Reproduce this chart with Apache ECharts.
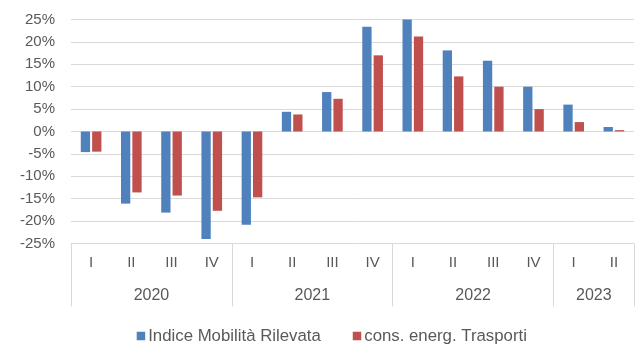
<!DOCTYPE html>
<html>
<head>
<meta charset="utf-8">
<script src="https://cdn.jsdelivr.net/npm/echarts@6/dist/echarts.min.js"></script>
<style>
  html, body { margin: 0; padding: 0; background: #fff; }
  #chart { width: 641px; height: 345px; }
</style>
</head>
<body>
<div id="chart"></div>
<script>
// Quarterly year-on-year changes (%)
const quarters = ['I', 'II', 'III', 'IV', 'I', 'II', 'III', 'IV', 'I', 'II', 'III', 'IV', 'I', 'II'];
const years = ['2020', '2021', '2022', '2023'];
const quartersPerYear = [4, 4, 4, 2];
const mobilita = [-4.6, -16.1, -18.1, -24.0, -20.8, 4.4, 8.8, 23.4, 25.0, 18.1, 15.8, 10.0, 6.0, 1.0];
const trasporti = [-4.5, -13.6, -14.3, -17.7, -14.7, 3.8, 7.3, 17.0, 21.2, 12.3, 10.0, 5.0, 2.1, 0.3];
const yTicks = [-25, -20, -15, -10, -5, 0, 5, 10, 15, 20, 25];

// Year group boundaries and centres, in category units
const boundaries = [0];
const centres = [];
quartersPerYear.forEach((n, i) => {
  const start = boundaries[i];
  boundaries.push(start + n);
  centres.push(start + n / 2);
});

const textColor = '#595959';
const gridColor = '#d9d9d9';
const font = 'Liberation Sans, Arial, sans-serif';

const chart = echarts.init(document.getElementById('chart'), null, { renderer: 'canvas' });
chart.setOption({
  animation: false,
  backgroundColor: '#ffffff',
  grid: { left: 71, right: 7, top: 19.5, bottom: 101.5 },
  legend: {
    left: 131.7,
    top: 322.5,
    icon: 'rect',
    itemWidth: 8.5,
    itemHeight: 8.5,
    itemGap: 32,
    textStyle: { color: textColor, fontSize: 16.8, fontFamily: font, padding: [0, 0, 0, -2] },
    data: ['Indice Mobilità Rilevata', 'cons. energ. Trasporti']
  },
  xAxis: [
    {
      type: 'category',
      data: quarters,
      position: 'bottom',
      axisLine: { onZero: false, lineStyle: { color: gridColor, width: 1 } },
      axisTick: { show: false },
      axisLabel: { color: textColor, fontSize: 15, fontFamily: font, margin: 12, interval: 0 },
      splitLine: { show: false }
    },
    {
      type: 'value',
      min: 0,
      max: quarters.length,
      position: 'bottom',
      axisLine: { show: false, onZero: false },
      axisTick: {
        show: true,
        customValues: boundaries,
        length: 63,
        lineStyle: { color: gridColor, width: 1 }
      },
      axisLabel: {
        show: true,
        customValues: centres,
        margin: 44,
        color: textColor,
        fontSize: 16,
        fontFamily: font,
        formatter: (v) => years[centres.indexOf(v)]
      },
      splitLine: { show: false }
    }
  ],
  yAxis: {
    type: 'value',
    min: yTicks[0],
    max: yTicks[yTicks.length - 1],
    interval: 5,
    axisLine: { show: false },
    axisTick: { show: false },
    axisLabel: {
      color: textColor,
      fontSize: 15,
      fontFamily: font,
      margin: 16,
      formatter: '{value}%'
    },
    splitLine: { lineStyle: { color: gridColor, width: 1 } }
  },
  series: [
    {
      name: 'Indice Mobilità Rilevata',
      type: 'bar',
      xAxisIndex: 0,
      data: mobilita,
      barWidth: 9.3,
      barGap: '22%',
      itemStyle: { color: '#4f81bd' }
    },
    {
      name: 'cons. energ. Trasporti',
      type: 'bar',
      xAxisIndex: 0,
      data: trasporti,
      barWidth: 9.3,
      barGap: '22%',
      itemStyle: { color: '#c0504d' }
    }
  ]
});
</script>
</body>
</html>
